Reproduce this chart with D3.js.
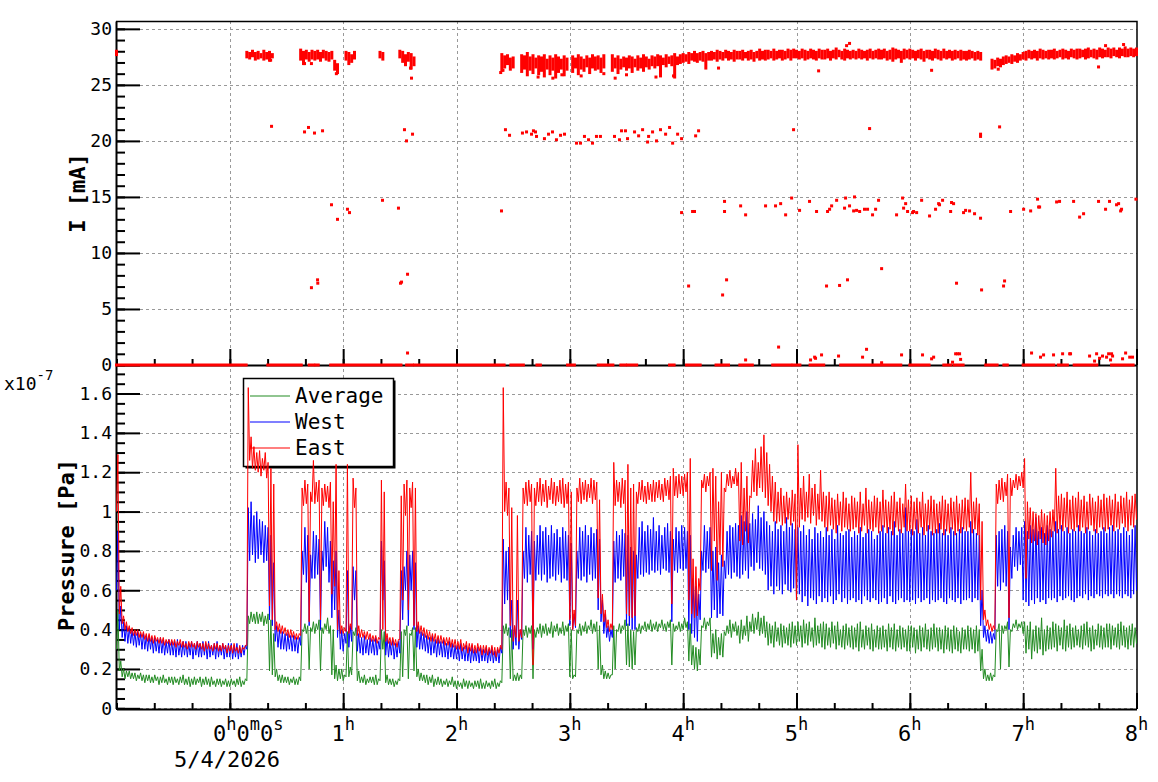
<!DOCTYPE html>
<html>
<head>
<meta charset="utf-8">
<script src="https://cdn.jsdelivr.net/npm/d3@7"></script>
<style>
  body { margin: 0; background: #fff; }
  svg text { font-family: "DejaVu Sans Mono", monospace; }
</style>
</head>
<body>
<div id="container"></div>
<script>
const _ = null;
// pressure read in bins of 0.025 h from -1 h: lowest and highest reading per bin (x1e-7 Pa)
const t0 = -1, dt = 0.025;

const eastLo = [
  1.00,0.48,0.43,0.40,0.39,0.38,0.37,0.37,0.36,0.36,
  0.35,0.34,0.34,0.33,0.34,0.33,0.33,0.32,0.33,0.32,
  0.32,0.31,0.32,0.31,0.31,0.30,0.31,0.31,0.30,0.31,
  0.30,0.29,0.30,0.30,0.29,0.30,0.29,0.29,0.30,0.28,
  0.29,0.28,0.29,0.28,0.28,0.30,0.32,1.26,1.22,1.21,
  1.20,1.18,1.21,1.17,0.52,0.45,0.40,0.39,0.38,0.38,
  0.37,0.36,0.36,0.35,0.35,0.37,1.03,1.04,0.44,1.05,
  1.04,1.05,0.45,1.03,1.05,1.02,0.58,0.62,0.40,0.38,
  0.38,0.39,0.38,0.40,1.02,0.37,0.36,0.36,0.35,0.35,
  0.34,0.34,0.33,0.35,0.40,0.34,0.33,0.32,0.32,0.31,
  0.35,0.55,0.98,0.50,1.02,0.42,0.39,0.38,0.37,0.36,
  0.35,0.34,0.34,0.33,0.33,0.33,0.32,0.32,0.31,0.31,
  0.30,0.30,0.29,0.30,0.28,0.29,0.28,0.28,0.29,0.27,
  0.28,0.27,0.28,0.27,0.26,0.28,0.30,1.00,0.98,0.42,
  0.34,0.36,0.34,0.36,1.04,1.03,1.05,0.22,1.03,1.05,
  1.03,1.05,1.02,1.06,1.04,1.03,1.05,1.04,1.02,1.04,
  0.45,0.40,0.42,1.05,1.04,1.06,1.05,1.07,1.04,1.06,
  0.56,0.48,0.44,0.41,0.39,0.40,1.03,1.05,1.02,1.04,
  0.48,0.47,0.46,0.47,1.04,1.06,1.05,1.04,1.06,1.05,
  1.05,1.07,1.06,1.05,1.08,1.06,0.53,1.08,1.07,1.09,
  1.08,1.10,0.55,0.48,0.46,0.47,0.60,1.12,1.10,1.13,
  0.70,0.85,0.65,0.78,0.72,1.10,1.13,1.12,1.14,1.13,
  0.85,0.83,0.90,0.84,1.07,1.10,1.08,1.12,1.10,1.07,
  1.03,1.00,0.95,0.94,0.95,0.93,0.94,0.96,0.93,0.95,
  0.55,0.92,0.96,0.95,0.97,0.94,0.98,0.93,0.96,0.95,
  0.92,0.90,0.93,0.91,0.89,0.93,0.90,0.92,0.91,0.90,
  0.91,0.92,0.89,0.90,0.93,0.89,0.91,0.90,0.92,0.89,
  0.90,0.92,0.89,0.91,0.88,0.92,0.90,0.89,0.92,0.90,
  0.90,0.88,0.91,0.89,0.92,0.88,0.90,0.91,0.88,0.89,
  0.89,0.91,0.88,0.90,0.89,0.91,0.88,0.90,0.89,0.91,
  0.90,0.92,0.89,0.91,0.88,0.55,0.45,0.42,0.40,0.39,
  0.40,1.04,1.06,1.05,1.08,0.46,1.08,1.12,1.11,1.13,
  1.12,0.66,0.86,0.84,0.85,0.83,0.86,0.84,0.83,0.85,
  0.87,0.90,0.89,0.91,0.90,0.92,0.89,0.91,0.90,0.92,
  0.90,0.92,0.89,0.91,0.93,0.90,0.89,0.92,0.91,0.90,
  0.91,0.93,0.90,0.92,0.91,0.94,0.92,0.90,0.93,0.92,
  0.96
];
const eastHi = [
  1.29,0.62,0.47,0.44,0.42,0.41,0.40,0.40,0.39,0.39,
  0.38,0.38,0.37,0.37,0.36,0.36,0.36,0.35,0.35,0.35,
  0.35,0.34,0.35,0.34,0.33,0.34,0.34,0.33,0.34,0.33,
  0.33,0.34,0.33,0.32,0.33,0.33,0.32,0.33,0.32,0.32,
  0.32,0.33,0.31,0.32,0.31,0.32,1.63,1.38,1.33,1.30,
  1.31,1.27,1.30,1.25,1.22,1.14,0.44,0.43,0.42,0.41,
  0.40,0.40,0.39,0.38,0.38,1.12,1.16,1.14,1.10,1.26,
  1.15,1.16,1.12,1.14,1.13,1.15,1.05,1.24,0.70,0.42,
  0.41,1.24,0.43,1.17,1.12,0.42,0.40,0.39,0.39,0.38,
  0.37,0.37,0.36,1.16,1.10,0.38,0.36,0.36,0.35,0.35,
  1.08,1.14,1.16,1.12,1.15,1.12,0.44,0.42,0.41,0.40,
  0.39,0.38,0.38,0.37,0.37,0.36,0.36,0.36,0.35,0.35,
  0.34,0.35,0.33,0.34,0.33,0.33,0.32,0.33,0.32,0.32,
  0.32,0.31,0.32,0.31,0.31,0.32,1.63,1.15,1.12,1.02,
  0.42,0.98,0.40,1.12,1.15,1.16,1.14,1.12,1.15,1.17,
  1.14,1.16,1.13,1.17,1.15,1.13,1.16,1.17,1.14,1.15,
  1.10,0.50,1.12,1.17,1.15,1.16,1.14,1.17,1.16,1.15,
  1.06,0.58,0.50,0.45,0.43,1.25,1.16,1.15,1.17,1.16,
  1.24,1.12,1.14,1.10,1.15,1.16,1.13,1.15,1.14,1.16,
  1.15,1.16,1.14,1.17,1.16,1.18,1.22,1.18,1.19,1.18,
  1.19,1.20,1.27,0.76,0.72,0.66,1.16,1.19,1.18,1.20,
  1.22,1.18,1.05,1.20,1.12,1.19,1.21,1.18,1.22,1.20,
  1.25,1.12,1.18,1.08,1.26,1.32,1.25,1.33,1.39,1.30,
  1.24,1.18,1.15,1.10,1.12,1.08,1.10,1.07,1.11,1.09,
  1.34,1.12,1.18,1.10,1.19,1.12,1.14,1.09,1.21,1.10,
  1.08,1.10,1.07,1.06,1.09,1.05,1.10,1.07,1.04,1.08,
  1.07,1.05,1.10,1.04,1.12,1.06,1.05,1.08,1.07,1.05,
  1.11,1.06,1.05,1.08,1.10,1.05,1.07,1.04,1.14,1.06,
  1.08,1.05,1.07,1.05,1.10,1.04,1.06,1.08,1.06,1.04,
  1.05,1.08,1.06,1.04,1.07,1.05,1.08,1.04,1.06,1.07,
  1.06,1.20,1.05,1.07,1.04,0.95,0.50,0.45,0.43,0.42,
  1.14,1.16,1.17,1.15,1.19,1.17,1.16,1.19,1.18,1.20,
  1.27,1.05,1.02,1.00,0.99,0.98,1.01,0.99,0.98,1.00,
  1.01,1.22,1.08,1.09,1.07,1.10,1.06,1.08,1.07,1.10,
  1.06,1.08,1.05,1.09,1.07,1.05,1.08,1.06,1.09,1.07,
  1.08,1.06,1.09,1.05,1.08,1.07,1.10,1.06,1.08,1.09,
  1.07
];

const westLo = [
  0.60,0.40,0.36,0.34,0.33,0.33,0.32,0.31,0.32,0.30,
  0.30,0.29,0.30,0.28,0.29,0.28,0.28,0.27,0.28,0.27,
  0.27,0.26,0.27,0.26,0.27,0.26,0.27,0.25,0.27,0.26,
  0.26,0.27,0.25,0.26,0.27,0.25,0.26,0.27,0.25,0.26,
  0.26,0.25,0.26,0.25,0.26,0.27,0.30,0.75,0.78,0.74,
  0.76,0.78,0.74,0.75,0.45,0.42,0.34,0.31,0.30,0.30,
  0.29,0.30,0.29,0.29,0.28,0.32,0.68,0.64,0.42,0.66,
  0.66,0.68,0.40,0.70,0.72,0.64,0.46,0.50,0.36,0.30,
  0.29,0.33,0.31,0.34,0.55,0.29,0.28,0.27,0.28,0.27,
  0.28,0.27,0.27,0.30,0.55,0.27,0.26,0.27,0.25,0.26,
  0.28,0.45,0.60,0.42,0.60,0.40,0.31,0.30,0.30,0.29,
  0.28,0.27,0.28,0.26,0.27,0.26,0.26,0.25,0.26,0.25,
  0.25,0.24,0.25,0.24,0.24,0.23,0.24,0.24,0.23,0.24,
  0.24,0.23,0.24,0.23,0.24,0.23,0.28,0.53,0.55,0.36,
  0.30,0.32,0.30,0.35,0.66,0.64,0.68,0.30,0.65,0.68,
  0.65,0.68,0.64,0.66,0.67,0.65,0.68,0.64,0.66,0.65,
  0.42,0.40,0.41,0.66,0.65,0.67,0.64,0.68,0.65,0.66,
  0.50,0.44,0.38,0.36,0.34,0.36,0.64,0.66,0.65,0.67,
  0.42,0.42,0.40,0.40,0.66,0.68,0.67,0.69,0.68,0.70,
  0.69,0.70,0.68,0.71,0.70,0.69,0.44,0.70,0.69,0.71,
  0.70,0.71,0.40,0.38,0.36,0.34,0.45,0.70,0.69,0.71,
  0.46,0.50,0.46,0.48,0.47,0.66,0.68,0.66,0.69,0.67,
  0.66,0.68,0.70,0.66,0.72,0.70,0.74,0.71,0.70,0.68,
  0.60,0.62,0.58,0.62,0.60,0.58,0.63,0.60,0.59,0.61,
  0.55,0.58,0.54,0.57,0.52,0.56,0.55,0.53,0.57,0.54,
  0.56,0.54,0.57,0.53,0.55,0.58,0.54,0.56,0.53,0.55,
  0.56,0.54,0.55,0.53,0.57,0.55,0.54,0.56,0.55,0.53,
  0.54,0.56,0.53,0.57,0.54,0.53,0.55,0.56,0.54,0.55,
  0.54,0.55,0.53,0.56,0.54,0.55,0.56,0.53,0.55,0.54,
  0.55,0.56,0.54,0.53,0.56,0.55,0.54,0.56,0.53,0.55,
  0.55,0.56,0.54,0.56,0.55,0.42,0.36,0.34,0.33,0.33,
  0.35,0.62,0.60,0.64,0.62,0.40,0.66,0.72,0.70,0.73,
  0.55,0.54,0.52,0.55,0.53,0.56,0.54,0.55,0.53,0.56,
  0.55,0.56,0.54,0.57,0.55,0.56,0.57,0.55,0.54,0.56,
  0.57,0.56,0.58,0.55,0.57,0.56,0.58,0.57,0.56,0.58,
  0.57,0.58,0.56,0.58,0.57,0.56,0.58,0.57,0.56,0.58,
  0.60
];
const westHi = [
  0.90,0.52,0.44,0.42,0.41,0.40,0.39,0.39,0.38,0.38,
  0.37,0.37,0.36,0.36,0.35,0.36,0.35,0.34,0.35,0.34,
  0.34,0.35,0.33,0.34,0.34,0.33,0.34,0.33,0.34,0.33,
  0.34,0.33,0.34,0.32,0.33,0.34,0.32,0.33,0.32,0.33,
  0.33,0.32,0.33,0.31,0.32,0.32,1.02,1.05,0.98,1.00,
  0.96,0.95,0.93,0.92,0.88,0.74,0.42,0.40,0.39,0.38,
  0.38,0.37,0.37,0.36,0.36,0.80,0.92,0.88,0.78,0.90,
  0.88,0.86,0.80,0.95,0.92,0.85,0.75,0.80,0.50,0.40,
  0.38,0.70,0.42,0.72,0.70,0.38,0.36,0.37,0.35,0.36,
  0.35,0.36,0.34,0.85,0.75,0.36,0.34,0.35,0.33,0.34,
  0.70,0.72,0.80,0.78,0.80,0.74,0.42,0.39,0.38,0.37,
  0.36,0.37,0.35,0.36,0.34,0.35,0.33,0.34,0.33,0.32,
  0.32,0.33,0.31,0.32,0.31,0.32,0.30,0.31,0.31,0.30,
  0.31,0.30,0.31,0.29,0.30,0.31,0.86,0.80,0.82,0.55,
  0.42,0.55,0.40,0.80,0.92,0.88,0.90,0.85,0.88,0.93,
  0.90,0.92,0.88,0.93,0.89,0.91,0.87,0.92,0.90,0.88,
  0.84,0.48,0.80,0.92,0.90,0.93,0.88,0.92,0.89,0.91,
  0.86,0.55,0.48,0.42,0.40,0.85,0.90,0.88,0.91,0.89,
  0.88,0.82,0.80,0.78,0.92,0.95,0.90,0.93,0.91,0.97,
  0.90,0.93,0.88,0.92,0.94,0.90,0.86,0.92,0.90,0.93,
  0.92,0.90,0.88,0.66,0.62,0.58,0.80,0.93,0.90,0.92,
  0.80,0.82,0.74,0.78,0.75,0.90,0.93,0.92,0.94,0.93,
  0.98,0.95,1.00,0.94,0.99,0.96,1.03,0.97,1.00,0.95,
  0.93,0.90,0.95,0.91,0.93,0.90,0.97,0.92,0.94,0.91,
  0.92,0.90,0.93,0.88,0.91,0.86,0.92,0.89,0.90,0.87,
  0.92,0.88,0.91,0.86,0.93,0.89,0.88,0.90,0.91,0.87,
  0.90,0.88,0.92,0.87,0.89,0.91,0.90,0.86,0.88,0.90,
  0.93,0.89,0.92,0.90,0.95,0.88,0.91,0.89,1.02,0.90,
  0.91,0.90,0.96,0.89,0.92,0.88,0.93,0.90,0.89,0.91,
  0.94,0.89,0.91,0.88,0.92,0.90,0.89,0.91,0.92,0.90,
  0.90,0.95,0.91,0.89,0.88,0.60,0.42,0.40,0.39,0.38,
  0.88,0.90,0.91,0.93,0.90,0.82,0.88,0.92,0.90,0.92,
  0.95,0.90,0.93,0.91,0.97,0.90,0.92,0.89,0.93,0.91,
  0.90,0.95,0.91,0.93,0.90,0.92,0.89,0.91,0.90,0.93,
  0.90,0.89,0.92,0.90,0.88,0.91,0.89,0.90,0.92,0.89,
  0.92,0.93,0.90,0.91,0.89,0.92,0.90,0.88,0.91,0.93,
  0.80
];

const averageLo = [
  0.30,0.19,0.16,0.15,0.16,0.15,0.15,0.14,0.15,0.14,
  0.13,0.14,0.13,0.13,0.14,0.12,0.13,0.13,0.12,0.13,
  0.12,0.13,0.12,0.13,0.12,0.12,0.11,0.12,0.12,0.13,
  0.11,0.12,0.12,0.11,0.12,0.11,0.12,0.11,0.12,0.11,
  0.11,0.12,0.11,0.12,0.11,0.12,0.14,0.43,0.44,0.43,
  0.43,0.44,0.42,0.43,0.19,0.17,0.16,0.14,0.13,0.13,
  0.13,0.12,0.13,0.12,0.12,0.14,0.39,0.38,0.20,0.39,
  0.38,0.40,0.19,0.38,0.40,0.38,0.17,0.15,0.14,0.15,
  0.14,0.16,0.16,0.17,0.37,0.14,0.13,0.13,0.12,0.13,
  0.13,0.12,0.12,0.14,0.30,0.13,0.12,0.12,0.11,0.12,
  0.14,0.16,0.37,0.15,0.37,0.19,0.16,0.14,0.14,0.13,
  0.12,0.13,0.11,0.12,0.12,0.11,0.12,0.11,0.12,0.11,
  0.10,0.11,0.10,0.11,0.10,0.11,0.10,0.11,0.10,0.10,
  0.10,0.11,0.10,0.11,0.10,0.11,0.13,0.38,0.37,0.15,
  0.14,0.14,0.14,0.15,0.37,0.36,0.38,0.15,0.36,0.38,
  0.36,0.38,0.37,0.38,0.36,0.39,0.37,0.38,0.37,0.39,
  0.16,0.15,0.16,0.38,0.37,0.39,0.38,0.40,0.38,0.39,
  0.20,0.17,0.15,0.15,0.15,0.17,0.20,0.39,0.38,0.40,
  0.22,0.21,0.20,0.22,0.39,0.38,0.40,0.39,0.40,0.39,
  0.40,0.39,0.41,0.40,0.39,0.41,0.22,0.39,0.40,0.39,
  0.40,0.41,0.24,0.22,0.20,0.19,0.22,0.41,0.40,0.42,
  0.26,0.28,0.25,0.27,0.26,0.37,0.38,0.36,0.39,0.37,
  0.33,0.35,0.37,0.34,0.39,0.38,0.40,0.37,0.38,0.36,
  0.32,0.33,0.31,0.34,0.32,0.31,0.33,0.32,0.31,0.33,
  0.32,0.34,0.31,0.33,0.32,0.34,0.31,0.32,0.33,0.31,
  0.30,0.32,0.31,0.33,0.30,0.32,0.31,0.30,0.32,0.31,
  0.30,0.31,0.29,0.31,0.30,0.32,0.30,0.29,0.31,0.30,
  0.30,0.31,0.29,0.31,0.30,0.29,0.31,0.30,0.31,0.29,
  0.29,0.31,0.28,0.30,0.29,0.31,0.30,0.29,0.30,0.31,
  0.29,0.30,0.28,0.30,0.29,0.28,0.30,0.29,0.28,0.30,
  0.30,0.29,0.30,0.28,0.29,0.19,0.15,0.14,0.14,0.14,
  0.16,0.39,0.20,0.38,0.40,0.21,0.39,0.41,0.40,0.41,
  0.38,0.28,0.30,0.25,0.29,0.28,0.30,0.27,0.29,0.30,
  0.30,0.31,0.29,0.32,0.30,0.29,0.31,0.30,0.31,0.32,
  0.31,0.30,0.32,0.31,0.29,0.30,0.32,0.31,0.30,0.31,
  0.31,0.30,0.32,0.31,0.30,0.32,0.31,0.30,0.32,0.31,
  0.33
];
const averageHi = [
  0.50,0.24,0.20,0.19,0.19,0.18,0.18,0.17,0.18,0.17,
  0.17,0.17,0.16,0.17,0.16,0.16,0.17,0.15,0.16,0.16,
  0.16,0.15,0.16,0.17,0.15,0.16,0.15,0.16,0.15,0.16,
  0.15,0.16,0.15,0.16,0.14,0.15,0.15,0.14,0.15,0.14,
  0.15,0.14,0.15,0.16,0.14,0.15,0.47,0.49,0.48,0.49,
  0.48,0.49,0.47,0.48,0.45,0.38,0.20,0.17,0.17,0.16,
  0.16,0.15,0.16,0.15,0.16,0.40,0.43,0.42,0.41,0.44,
  0.43,0.45,0.41,0.43,0.46,0.42,0.40,0.22,0.20,0.20,
  0.17,0.39,0.21,0.39,0.41,0.19,0.16,0.17,0.15,0.16,
  0.16,0.17,0.15,0.40,0.39,0.17,0.15,0.15,0.14,0.15,
  0.39,0.40,0.42,0.38,0.41,0.41,0.20,0.18,0.17,0.17,
  0.16,0.17,0.15,0.16,0.15,0.14,0.15,0.14,0.16,0.14,
  0.14,0.13,0.15,0.14,0.14,0.13,0.14,0.14,0.15,0.13,
  0.14,0.13,0.14,0.15,0.13,0.14,0.42,0.43,0.41,0.40,
  0.17,0.18,0.17,0.40,0.42,0.41,0.42,0.40,0.41,0.43,
  0.42,0.43,0.41,0.44,0.42,0.43,0.41,0.44,0.42,0.43,
  0.40,0.17,0.40,0.43,0.42,0.44,0.42,0.45,0.43,0.44,
  0.42,0.22,0.19,0.18,0.17,0.42,0.40,0.43,0.42,0.45,
  0.43,0.40,0.39,0.41,0.43,0.42,0.44,0.43,0.45,0.43,
  0.44,0.43,0.45,0.43,0.44,0.45,0.43,0.42,0.44,0.43,
  0.46,0.44,0.43,0.32,0.31,0.30,0.42,0.46,0.44,0.46,
  0.38,0.40,0.36,0.38,0.39,0.42,0.45,0.43,0.44,0.42,
  0.45,0.42,0.47,0.44,0.48,0.46,0.49,0.46,0.47,0.44,
  0.43,0.42,0.44,0.41,0.43,0.42,0.41,0.43,0.44,0.42,
  0.44,0.42,0.45,0.43,0.44,0.41,0.46,0.42,0.43,0.44,
  0.43,0.41,0.44,0.42,0.44,0.40,0.42,0.43,0.41,0.42,
  0.41,0.43,0.44,0.40,0.42,0.41,0.43,0.40,0.42,0.41,
  0.42,0.40,0.43,0.41,0.43,0.40,0.42,0.41,0.40,0.42,
  0.42,0.41,0.40,0.42,0.41,0.43,0.40,0.41,0.43,0.41,
  0.41,0.40,0.42,0.41,0.40,0.42,0.41,0.39,0.41,0.40,
  0.42,0.41,0.40,0.42,0.40,0.30,0.20,0.17,0.18,0.17,
  0.40,0.43,0.42,0.42,0.44,0.40,0.43,0.45,0.43,0.44,
  0.44,0.42,0.44,0.40,0.42,0.41,0.46,0.40,0.42,0.41,
  0.44,0.43,0.42,0.41,0.45,0.42,0.43,0.41,0.42,0.40,
  0.42,0.43,0.44,0.41,0.42,0.40,0.43,0.42,0.41,0.43,
  0.43,0.42,0.41,0.43,0.44,0.42,0.41,0.42,0.43,0.41,
  0.40
];

// beam current band, upper and lower reading per bin (null = beam off)
const beamHi = [
  28.0,_,_,_,_,_,_,_,_,_,
  _,_,_,_,_,_,_,_,_,_,
  _,_,_,_,_,_,_,_,_,_,
  _,_,_,_,_,_,_,_,_,_,
  _,_,_,_,_,_,27.9,27.8,28.0,27.8,
  27.9,27.7,28.0,27.8,27.9,27.7,_,_,_,_,
  _,_,_,_,_,28.1,27.9,28.0,27.8,28.0,
  27.9,28.0,27.8,28.0,27.9,27.8,27.9,27.1,26.8,_,
  _,27.9,27.8,27.6,27.9,_,_,_,_,_,
  _,_,_,27.9,27.8,_,_,_,_,_,
  28.0,27.9,27.6,27.8,27.7,27.4,_,_,_,_,
  _,_,_,_,_,_,_,_,_,_,
  _,_,_,_,_,_,_,_,_,_,
  _,_,_,_,_,_,27.7,27.5,27.6,27.3,
  27.4,_,_,27.6,27.5,27.8,27.4,27.6,27.3,27.5,
  27.4,27.6,27.2,27.5,27.3,27.6,27.4,27.2,27.5,27.3,
  _,27.5,27.3,27.6,27.4,27.2,27.5,27.3,27.6,27.4,
  27.5,27.3,27.6,_,_,27.6,27.3,27.5,27.2,27.4,
  27.3,27.5,27.4,27.2,27.5,27.3,27.6,27.4,27.2,27.5,
  27.4,27.6,27.5,27.3,27.6,27.4,27.5,27.7,27.4,27.6,
  27.7,27.6,27.8,27.7,27.9,27.7,27.8,27.9,27.7,27.8,
  27.9,27.8,28.0,27.9,27.8,28.0,27.9,27.8,28.0,27.9,
  27.9,28.0,27.8,27.9,28.0,27.8,27.9,28.1,27.9,28.0,
  28.0,27.9,28.1,27.9,28.0,28.0,27.9,28.1,28.0,28.1,
  28.0,27.9,28.1,28.0,27.9,28.1,28.0,27.9,28.1,28.0,
  28.0,28.1,27.9,28.0,28.2,28.0,27.9,28.1,28.0,27.9,
  28.0,27.9,28.1,28.0,27.9,28.0,28.1,27.9,28.0,28.1,
  28.0,28.1,27.9,28.0,28.2,28.1,28.0,27.9,28.1,28.0,
  28.1,28.0,27.9,28.0,28.1,27.9,28.0,28.0,27.9,28.1,
  28.0,27.9,28.1,27.9,28.0,27.9,28.0,27.9,28.0,27.9,
  27.9,28.0,27.9,27.8,27.9,27.8,_,_,_,27.2,
  27.1,27.3,27.2,27.4,27.5,27.4,27.6,27.5,27.7,27.6,
  27.8,27.9,28.0,27.9,28.0,27.9,28.1,28.0,27.9,28.0,
  28.0,28.1,27.9,28.0,28.1,28.0,27.9,28.1,28.0,28.1,
  28.1,28.0,28.1,28.2,28.0,28.1,28.0,28.2,28.1,28.0,
  28.2,28.1,28.2,28.0,28.2,28.1,28.3,28.1,28.2,28.1,
  28.2
];
const beamLo = [
  27.7,_,_,_,_,_,_,_,_,_,
  _,_,_,_,_,_,_,_,_,_,
  _,_,_,_,_,_,_,_,_,_,
  _,_,_,_,_,_,_,_,_,_,
  _,_,_,_,_,_,27.5,27.4,27.6,27.3,
  27.4,27.5,27.3,27.4,27.2,27.5,_,_,_,_,
  _,_,_,_,_,27.3,26.9,27.4,27.2,27.4,
  27.3,27.4,27.2,27.5,27.3,27.2,27.4,26.4,26.1,_,
  _,27.3,26.9,27.1,27.4,_,_,_,_,_,
  _,_,_,27.5,27.3,_,_,_,_,_,
  27.5,27.1,26.8,27.2,26.5,26.8,_,_,_,_,
  _,_,_,_,_,_,_,_,_,_,
  _,_,_,_,_,_,_,_,_,_,
  _,_,_,_,_,_,26.3,26.6,26.9,26.4,
  26.6,_,_,26.2,26.5,25.9,26.4,26.1,26.6,26.0,
  26.3,25.8,26.5,26.0,26.4,25.7,26.2,26.5,25.9,26.4,
  _,26.2,26.6,26.0,26.5,26.3,26.7,26.1,26.6,26.4,
  26.5,26.2,26.6,_,_,26.3,26.6,26.1,26.5,26.7,
  26.4,26.6,26.2,26.7,26.4,26.6,26.3,26.7,26.5,26.8,
  26.6,26.8,25.8,26.9,26.7,27.0,26.8,25.7,26.9,27.0,
  27.1,27.2,27.0,27.3,27.2,27.1,27.3,27.2,26.5,27.3,
  27.3,27.4,27.2,27.4,27.3,27.5,27.3,27.4,27.2,27.4,
  27.4,27.3,27.5,27.3,27.4,27.2,27.5,27.3,27.4,27.3,
  27.4,27.5,27.3,27.4,27.5,27.3,27.4,27.5,27.3,27.5,
  27.5,27.4,27.5,27.3,27.4,27.5,27.4,27.3,27.5,27.4,
  27.4,27.5,27.3,27.5,27.4,27.6,27.4,27.3,27.5,27.4,
  27.5,27.4,27.5,27.4,27.5,27.3,27.5,27.4,27.5,27.4,
  27.4,27.5,27.3,27.4,27.2,27.4,27.5,27.1,27.4,27.5,
  27.4,27.5,27.3,27.5,27.4,27.2,27.5,27.4,27.3,27.5,
  27.4,27.3,27.5,27.4,27.5,27.3,27.4,27.5,27.3,27.4,
  27.3,27.4,27.5,27.3,27.4,27.3,_,_,_,26.5,
  26.6,26.8,26.7,26.9,27.0,27.1,27.0,27.2,27.1,27.3,
  27.4,27.3,27.5,27.4,27.5,27.3,27.5,27.4,27.5,27.4,
  27.5,27.4,27.5,27.6,27.4,27.5,27.4,27.6,27.5,27.4,
  27.5,27.6,27.4,27.5,27.6,27.5,27.4,27.6,27.5,27.6,
  27.6,27.5,27.7,27.6,27.5,27.7,27.6,27.6,27.7,27.6,
  27.7
];

// isolated current readings [hour, mA]
const spots21 = [[0.368,21.3],[0.659,20.8],[0.694,21.2],[0.747,20.7],[0.818,20.9],[1.541,21.0],[1.559,20.0],[1.612,20.6],
  [2.432,21.0],[2.468,20.5],[2.582,20.7],[2.618,20.8],[2.662,20.6],[2.679,20.9],[2.697,20.8],[2.706,20.4],[2.776,20.2],
  [2.812,20.6],[2.847,20.8],[2.882,20.1],[2.918,20.5],[2.953,20.6],[3.059,19.8],[3.094,19.8],[3.129,20.4],[3.165,20.1],
  [3.200,19.8],[3.235,20.4],[3.270,20.4],[3.394,20.4],[3.438,20.1],[3.456,20.9],[3.491,20.9],[3.509,20.2],[3.571,20.8],
  [3.607,20.45],[3.642,21.0],[3.686,19.9],[3.695,20.4],[3.730,20.8],[3.765,20.0],[3.800,21.0],[3.845,20.6],[3.880,21.2],
  [3.907,19.8],[3.951,20.6],[3.986,20.2],[4.110,20.45],[4.136,20.9],[4.974,21.0],[5.645,21.1],[6.624,20.6],[6.624,20.4],[6.792,21.25]];
const spots14 = [[0.897,14.3],[0.95,13.0],[1.038,13.9],[1.056,13.6],[1.347,14.7],[1.488,14.0],[2.397,13.75],
  [3.986,13.6],[4.083,13.7],[4.1,13.7],[4.365,14.6],[4.365,13.7],[4.507,14.2],[4.551,13.4],[4.727,14.2],[4.815,14.2],
  [4.86,14.4],[4.904,13.4],[4.957,14.9],[5.027,13.8],[5.115,14.6],[5.177,13.7],[5.274,13.7],[5.292,13.9],[5.31,14.2],
  [5.354,14.7],[5.424,14.0],[5.433,14.9],[5.468,14.2],[5.504,13.75],[5.512,15.0],[5.53,13.8],[5.557,13.7],[5.6,13.9],
  [5.627,13.9],[5.671,13.4],[5.698,13.9],[5.724,14.7],[5.883,13.4],[5.936,14.9],[5.945,14.0],[5.963,14.4],[5.98,13.7],
  [6.024,13.6],[6.033,13.7],[6.06,13.6],[6.104,14.7],[6.174,13.3],[6.227,13.9],[6.254,14.4],[6.262,14.3],[6.289,14.7],
  [6.36,13.7],[6.368,14.5],[6.386,14.4],[6.474,13.6],[6.492,13.8],[6.527,13.75],[6.571,13.5],[6.624,13.1],[6.889,13.7],
  [7.004,13.9],[7.066,13.75],[7.127,14.8],[7.136,14.1],[7.145,14.1],[7.295,14.55],[7.321,14.6],[7.445,14.6],[7.498,13.2],
  [7.533,13.5],[7.665,14.6],[7.727,13.9],[7.762,14.6],[7.824,14.3],[7.842,14.4],[7.86,13.75],[7.868,13.9],[7.995,14.8]];
const spots7 = [[0.72,6.9],[0.774,7.6],[0.776,7.3],[1.506,7.3],[1.515,7.4],[1.568,8.1],[4.048,7.05],[4.348,6.25],
  [4.383,7.6],[5.265,7.05],[5.38,7.1],[5.45,7.6],[5.751,8.6],[6.412,7.3],[6.633,6.7],[6.827,7.05],[6.836,7.5]];
const spotsLow = [[1.568,1.07],[4.551,0.45],[4.842,1.6],[5.124,0.45],[5.16,0.7],[5.168,0.6],[5.221,0.9],[5.371,0.8],
  [5.583,0.7],[5.618,1.4],[5.751,0.2],[5.927,0.9],[6.112,0.9],[6.192,0.55],[6.21,0.7],[6.377,0.25],[6.404,1.0],
  [6.421,1.0],[6.439,1.0],[6.448,0.5],[7.074,1.07],[7.153,0.7],[7.18,0.9],[7.268,0.9],[7.348,1.0],[7.41,1.0],
  [7.418,1.0],[7.586,0.8],[7.63,0.35],[7.648,1.0],[7.674,0.6],[7.7,0.8],[7.736,0.7],[7.754,1.0],[7.771,0.45],
  [7.78,1.0],[7.789,0.8],[7.877,0.55],[7.904,1.07],[7.94,0.7],[7.965,0.7]];
const spotsBand = [[-1.0,27.9],[0.36,27.2],[0.659,26.9],[0.72,26.9],[0.94,26.0],[1.594,26.5],[1.603,25.6],[2.39,26.1],
  [2.41,26.3],[2.72,25.7],[2.85,25.6],[2.93,25.9],[3.1,25.8],[3.3,26.0],[3.4,25.6],[3.5,25.9],[3.76,25.7],[3.915,25.8],
  [4.312,26.5],[5.195,26.25],[5.442,28.5],[5.468,28.7],[6.192,26.3],[6.78,26.4],[7.665,26.6],[7.727,28.5],[7.886,28.6]];

// stretches of zero current readings [from, to] in hours
const zeroSpans = [[-1.0,0.144],[0.335,0.63],[0.70,0.74],[0.76,0.78],[0.89,1.51],[1.56,1.61],[1.63,2.42],[2.48,2.59],
  [2.71,2.74],[2.98,3.04],[3.25,3.38],[3.45,3.49],[3.51,3.59],[3.88,3.92],[4.03,4.15],[4.29,4.40],[4.50,4.61],
  [4.79,4.95],[4.97,5.03],[5.12,5.24],[5.39,5.92],[6.0,6.17],[6.30,6.36],[6.39,6.47],[6.67,6.77],[6.83,6.86],
  [7.0,7.27],[7.31,7.39],[7.45,7.65],[7.78,7.97]];

const hourTicks = [0, 1, 2, 3, 4, 5, 6, 7, 8];
const currentTicks = [0, 5, 10, 15, 20, 25, 30];
const pressureTicks = [0, 0.2, 0.4, 0.6, 0.8, 1, 1.2, 1.4, 1.6];
const pressureLabels = ["0", "0.2", "0.4", "0.6", "0.8", "1", "1.2", "1.4", "1.6"];
const seriesNames = ["Average", "West", "East"];
const seriesColors = ["#228b22", "#0000ff", "#ff0000"];

const W = 1158, H = 782;
const xL = 116, xR = 1137, yTop = 21, yMid = 365, yBot = 709;

const svg = d3.select("#container").append("svg")
  .attr("width", W).attr("height", H)
  .style("background", "#fff");

const x = d3.scaleLinear().domain([-1, 8]).range([116.5, 1136.5]);
const yI = d3.scaleLinear().domain([0, 30.7]).range([365, 21]);
const yP = d3.scaleLinear().domain([0, 1.745]).range([708.3, 365]);
const tAt = i => t0 + i * dt;

svg.append("clipPath").attr("id", "clipP")
  .append("rect").attr("x", xL).attr("y", yMid).attr("width", xR - xL).attr("height", yBot - yMid);

// grids
const grid = svg.append("g").attr("stroke", "#999").attr("stroke-width", 1).attr("stroke-dasharray", "3,3");
hourTicks.slice(0, -1).forEach(h => {
  const gx = Math.round(x(h)) + 0.5;
  grid.append("line").attr("x1", gx).attr("x2", gx).attr("y1", yTop).attr("y2", yBot);
});
currentTicks.slice(1).forEach(v => {
  const gy = Math.round(yI(v)) + 0.5;
  grid.append("line").attr("x1", xL).attr("x2", xR).attr("y1", gy).attr("y2", gy);
});
pressureTicks.forEach(v => {
  const gy = Math.round(yP(v)) + 0.5;
  grid.append("line").attr("x1", xL).attr("x2", xR).attr("y1", gy).attr("y2", gy);
});

// axes
function styleAxis(g, size) {
  g.selectAll("line, path").attr("stroke", "#000").attr("stroke-width", 2);
  g.selectAll("text").attr("font-family", "DejaVu Sans Mono").attr("font-size", size).attr("fill", "#000");
  g.attr("font-family", null).attr("font-size", null);
}

const minorHours = d3.range(-1, 8.001, 1 / 3);

[yMid, yBot].forEach(yy => {
  svg.append("g").attr("transform", `translate(0,${yy})`)
    .call(d3.axisBottom(x).tickValues(hourTicks).tickSize(-16).tickSizeOuter(0).tickFormat(""))
    .call(g => styleAxis(g, 18));
  svg.append("g").attr("transform", `translate(0,${yy})`)
    .call(d3.axisBottom(x).tickValues(minorHours).tickSize(-6).tickSizeOuter(0).tickFormat(""))
    .call(g => { styleAxis(g, 18); g.select(".domain").remove(); });
});

svg.append("g").attr("transform", `translate(${xL},0)`)
  .call(d3.axisLeft(yI).tickValues(currentTicks).tickSize(-24).tickSizeOuter(0).tickPadding(4))
  .call(g => styleAxis(g, 18));
svg.append("g").attr("transform", `translate(${xL},0)`)
  .call(d3.axisLeft(yI).tickValues(d3.range(0, 31, 1)).tickSize(-9).tickFormat(""))
  .call(g => { styleAxis(g, 18); g.select(".domain").remove(); });

svg.append("g").attr("transform", `translate(${xL},0)`)
  .call(d3.axisLeft(yP).tickValues(pressureTicks).tickSize(-24).tickSizeOuter(0).tickPadding(4)
    .tickFormat((d, i) => pressureLabels[i]))
  .call(g => styleAxis(g, 18))
  .call(g => g.select(".domain").attr("d", `M0.5,${yMid}V${yBot}`));
svg.append("g").attr("transform", `translate(${xL},0)`)
  .call(d3.axisLeft(yP).tickValues(d3.range(0, 1.745, 0.05)).tickSize(-9).tickFormat(""))
  .call(g => { styleAxis(g, 18); g.select(".domain").remove(); });

// frame
svg.append("path")
  .attr("d", `M${xL},${yTop + 0.5}H${xR}V${yBot}`)
  .attr("fill", "none").attr("stroke", "#000").attr("stroke-width", 1.5);

// x tick labels with superscripts
const xl = svg.append("g").attr("fill", "#000");
hourTicks.slice(1).forEach(h => {
  const t = xl.append("text").attr("x", x(h)).attr("y", 741).attr("text-anchor", "middle");
  t.append("tspan").attr("font-size", 22).text(h);
  t.append("tspan").attr("font-size", 17).attr("dy", -11).text("h");
});
const zt = xl.append("text").attr("x", 213).attr("y", 741);
[["0", "h"], ["0", "m"], ["0", "s"]].forEach(([n, u], k) => {
  zt.append("tspan").attr("font-size", 22).attr("dy", k ? 11 : 0).text(n);
  zt.append("tspan").attr("font-size", 17).attr("dy", -11).text(u);
});
xl.append("text").attr("x", 227).attr("y", 767).attr("text-anchor", "middle")
  .attr("font-size", 22).text("5/4/2026");

// axis titles
svg.append("text").attr("transform", "translate(85,193) rotate(-90)")
  .attr("text-anchor", "middle").attr("font-size", 22).attr("font-weight", "bold").text("I [mA]");
svg.append("text").attr("transform", "translate(74,545) rotate(-90)")
  .attr("text-anchor", "middle").attr("font-size", 22).attr("font-weight", "bold").text("Pressure [Pa]");
const ex = svg.append("text").attr("x", 4).attr("y", 390).attr("font-size", 18);
ex.append("tspan").text("x10");
ex.append("tspan").attr("font-size", 14).attr("dy", -10).text("-7");

// legend
const lg = svg.append("g");
lg.append("rect").attr("x", 245.5).attr("y", 380.5).attr("width", 150).attr("height", 88).attr("fill", "#000");
lg.append("rect").attr("x", 243.5).attr("y", 378.5).attr("width", 150).attr("height", 88)
  .attr("fill", "#fff").attr("stroke", "#000").attr("stroke-width", 1.5);
seriesNames.forEach((name, k) => {
  const ly = 396 + k * 26;
  lg.append("line").attr("x1", 250).attr("x2", 290).attr("y1", ly).attr("y2", ly)
    .attr("stroke", seriesColors[k]).attr("stroke-width", 1.2);
  lg.append("text").attr("x", 295).attr("y", ly).attr("dy", "0.35em").attr("font-size", 21).text(name);
});

// pressure traces: each bin drawn from its lowest to its highest reading
function binPoints(lo, hi) {
  const pts = [];
  lo.forEach((v, i) => {
    pts.push([tAt(i), v]);
    pts.push([tAt(i) + dt / 2, hi[i]]);
  });
  return pts;
}
const line = d3.line().x(d => x(d[0])).y(d => yP(d[1]));
const traces = svg.append("g").attr("clip-path", "url(#clipP)");
[[averageLo, averageHi], [westLo, westHi], [eastLo, eastHi]].forEach(([lo, hi], k) => {
  traces.append("path").datum(binPoints(lo, hi)).attr("d", line)
    .attr("fill", "none").attr("stroke", seriesColors[k]).attr("stroke-width", 1);
});

// current panel
const cur = svg.append("g").attr("fill", "#ff0000");
cur.selectAll(".zero").data(zeroSpans).join("rect")
  .attr("x", d => x(d[0]) - 1.5).attr("width", d => x(d[1]) - x(d[0]) + 3)
  .attr("y", yI(0) - 1.5).attr("height", 3);
const beam = beamHi.map((hi, i) => ({ t: tAt(i), hi, lo: beamLo[i] })).filter(d => d.hi !== null);
cur.selectAll(".beam").data(beam).join("rect")
  .attr("x", d => x(d.t) - 1.5).attr("width", 3)
  .attr("y", d => yI(d.hi) - 1.5).attr("height", d => yI(d.lo) - yI(d.hi) + 3);
const spots = [...spots21, ...spots14, ...spots7, ...spotsLow, ...spotsBand];
cur.selectAll(".spot").data(spots).join("rect")
  .attr("x", d => x(d[0]) - 1.5).attr("y", d => yI(d[1]) - 1.5)
  .attr("width", 3).attr("height", 3);
</script>
</body>
</html>
